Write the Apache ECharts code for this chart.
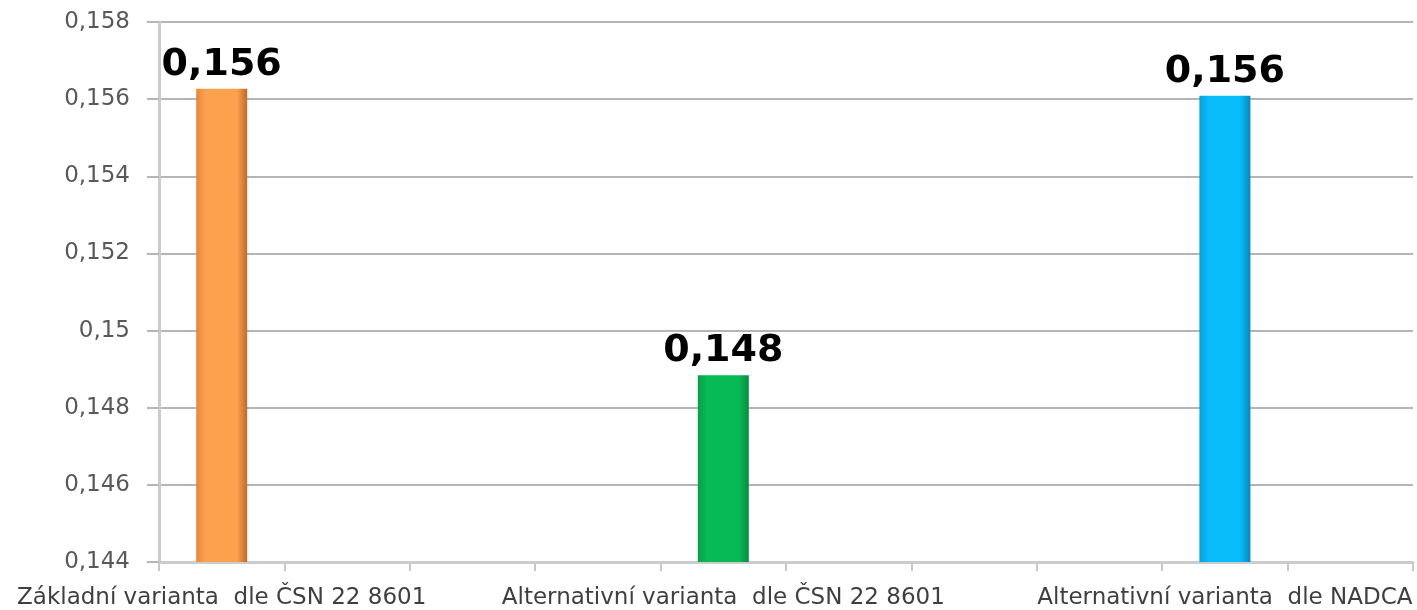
<!DOCTYPE html>
<html lang="cs">
<head>
    <meta charset="UTF-8">
    <title>Varianty</title>
    <script src="https://cdn.jsdelivr.net/npm/echarts@6/dist/echarts.min.js"></script>
    <style>
        html, body { margin: 0; padding: 0; background: #fff; }
        #chart { width: 1417px; height: 610px; }
    </style>
</head>
<body>
    <div id="chart"></div>
    <script>
        // data
        var categories = ['Základní varianta  dle ČSN 22 8601', 'Alternativní varianta  dle ČSN 22 8601', 'Alternativní varianta  dle NADCA'];
        var values = [0.15627, 0.14884, 0.15609];
        var valueLabels = ['0,156', '0,148', '0,156'];
        var yTicks = [0.144, 0.146, 0.148, 0.15, 0.152, 0.154, 0.156, 0.158];

        // colours: [edge left, centre, edge right]
        var barColors = [
            ['#e8863a', '#fca24f', '#c0672a'],
            ['#0a9d48', '#07ba56', '#0b8a3f'],
            ['#0aa0d8', '#08bdfa', '#0a86b5']
        ];

        // the category axis has empty slots between the bars
        var slotCount = 10;
        var step = 4;
        var axisCats = [];
        var barData = [];
        for (var i = 0; i < slotCount; i++) {
            axisCats.push('');
            barData.push('-');
        }
        categories.forEach(function (name, k) {
            var idx = k * step;
            var c = barColors[k];
            axisCats[idx] = name;
            barData[idx] = {
                value: values[k],
                label: { formatter: valueLabels[k] },
                itemStyle: {
                    color: new echarts.graphic.LinearGradient(0, 0, 1, 0, [
                        { offset: 0, color: c[0] },
                        { offset: 0.18, color: c[1] },
                        { offset: 0.8, color: c[1] },
                        { offset: 1, color: c[2] }
                    ])
                }
            };
        });

        var chart = echarts.init(document.getElementById('chart'));
        chart.setOption({
            animation: false,
            backgroundColor: '#fff',
            grid: { left: 159, right: 4, top: 22, bottom: 47 },
            xAxis: {
                type: 'category',
                data: axisCats,
                boundaryGap: true,
                axisLine: { lineStyle: { color: '#cccccc', width: 3 } },
                axisTick: { show: true, interval: 0, length: 9, lineStyle: { color: '#c8c8c8', width: 2 } },
                axisLabel: {
                    interval: step - 1,
                    margin: 25,
                    color: '#3f3f3f',
                    fontFamily: 'DejaVu Sans',
                    fontSize: 23
                }
            },
            yAxis: {
                type: 'value',
                min: yTicks[0],
                max: yTicks[yTicks.length - 1],
                interval: 0.002,
                axisLine: { show: true, lineStyle: { color: '#cccccc', width: 3 } },
                axisTick: { show: true, length: 12, lineStyle: { color: '#b5b5b5', width: 2 } },
                splitLine: { lineStyle: { color: '#b5b5b5', width: 2 } },
                axisLabel: {
                    margin: 29,
                    color: '#595959',
                    fontFamily: 'DejaVu Sans',
                    fontSize: 23,
                    formatter: function (v) {
                        return String(+v.toFixed(3)).replace('.', ',');
                    }
                }
            },
            series: [{
                type: 'bar',
                data: barData,
                barWidth: 51,
                label: {
                    show: true,
                    position: 'top',
                    distance: 5,
                    color: '#000',
                    fontFamily: 'DejaVu Sans',
                    fontWeight: 'bold',
                    fontSize: 38
                }
            }]
        });
    </script>
</body>
</html>
